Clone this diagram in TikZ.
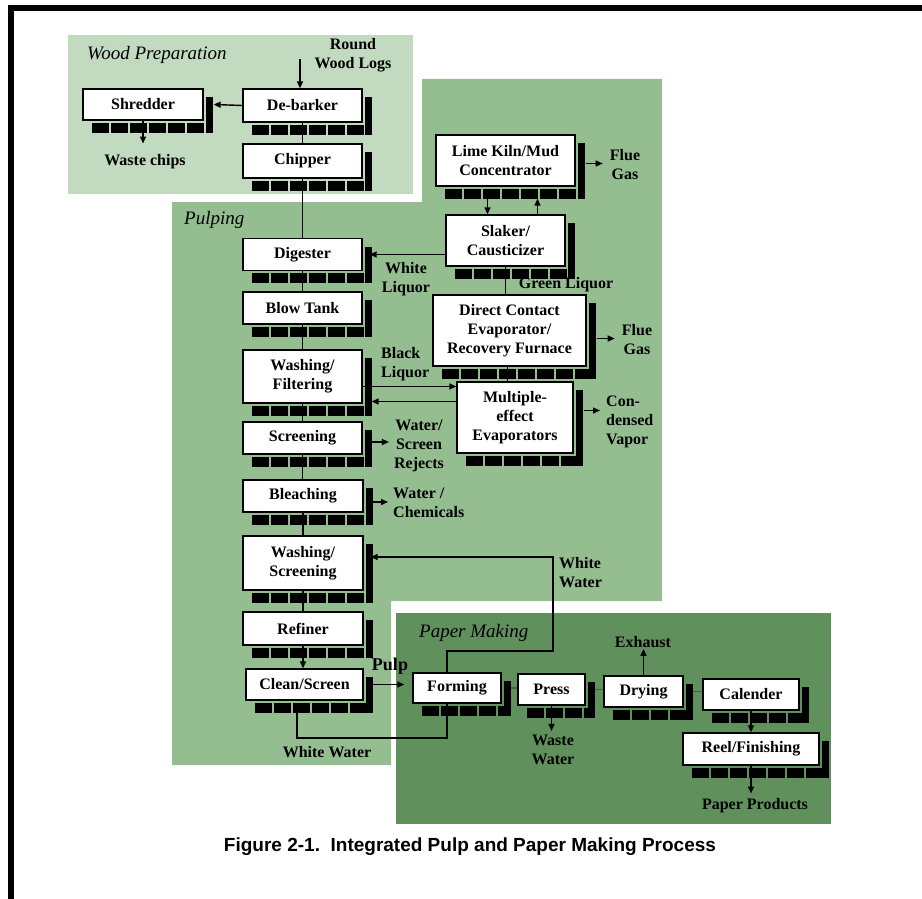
\documentclass[tikz,border=0pt]{standalone}
\usepackage{fontspec}
\setmainfont{Liberation Serif}
\newfontfamily\capfont{Liberation Sans}
\usetikzlibrary{arrows.meta,calc}
\definecolor{woodbg}{RGB}{194,218,192}
\definecolor{pulpbg}{RGB}{148,189,144}
\definecolor{paperbg}{RGB}{96,144,91}
\definecolor{rollline}{RGB}{66,98,64}
\begin{document}
\begin{tikzpicture}[x=1pt,y=-1pt,
  every node/.style={font=\fontsize{16}{19}\selectfont\bfseries},
  unit/.style={draw,fill=white,line width=1.3pt,inner sep=0pt,align=center},
  note/.style={inner sep=1pt,align=center},
  area/.style={inner sep=0pt,font=\fontsize{19}{22}\selectfont\itshape\mdseries},
  flow/.style={-{Triangle[length=7pt,width=6pt]},line width=1.4pt},
  link/.style={line width=1.4pt},
  pline/.style={line width=1.4pt,rollline},
  strip/.style={line width=10pt,dash pattern=on 17pt off 2pt}]
\useasboundingbox (0,0) rectangle (922,899);
% frame and areas
\fill[black] (8,5) rectangle (922,11);
\fill[black] (8,5) rectangle (14,899);
\fill[woodbg] (68,35) rectangle (413,194);
\fill[pulpbg] (422,79) -- (662,79) -- (662,601) -- (391,601) -- (391,765) -- (172,765) -- (172,202) -- (422,202) -- cycle;
\fill[paperbg] (396,613) rectangle (831,824);
\node[area,anchor=west] (woodt) at (87,55) {Wood Preparation};
\node[area,anchor=west] (pulpt) at (184,220) {Pulping};
\node[area,anchor=west] (papert) at (419,633) {Paper Making};
% process units
\node[unit,minimum width=120pt,minimum height=31pt] (shred) at (143,104.5) {Shredder};
\node[unit,minimum width=119pt,minimum height=33pt] (debark) at (302.5,105.5) {De-barker};
\node[unit,minimum width=119pt,minimum height=34pt] (chip) at (302.5,161) {Chipper};
\node[unit,minimum width=139pt,minimum height=51pt] (lime) at (505.5,160.5) {Lime Kiln/Mud\\Concentrator};
\node[unit,minimum width=119pt,minimum height=51pt] (slak) at (505.5,240.5) {Slaker/\\Causticizer};
\node[unit,minimum width=119pt,minimum height=32pt] (dig) at (302.5,254.5) {Digester};
\node[unit,minimum width=119pt,minimum height=32pt] (blow) at (302.5,308) {Blow Tank};
\node[unit,minimum width=153pt,minimum height=71pt] (dc) at (509.5,330.5) {Direct Contact\\Evaporator/\\Recovery Furnace};
\node[unit,minimum width=119pt,minimum height=53pt] (wf) at (302.5,376.5) {Washing/\\Filtering};
\node[unit,minimum width=116pt,minimum height=71pt] (me) at (515,417.5) {Multiple-\\effect\\Evaporators};
\node[unit,minimum width=119pt,minimum height=32pt] (scr) at (302.5,438) {Screening};
\node[unit,minimum width=120pt,minimum height=32pt] (bleach) at (303,496) {Bleaching};
\node[unit,minimum width=120pt,minimum height=54pt] (ws) at (303,563) {Washing/\\Screening};
\node[unit,minimum width=120pt,minimum height=33pt] (ref) at (303,628.5) {Refiner};
\node[unit,minimum width=117pt,minimum height=31pt] (cs) at (304.5,684.5) {Clean/Screen};
\node[unit,minimum width=88pt,minimum height=30pt] (form) at (457,688) {Forming};
\node[unit,minimum width=67pt,minimum height=31pt] (press) at (551.5,689.5) {Press};
\node[unit,minimum width=79pt,minimum height=31pt] (dry) at (643.5,691.5) {Drying};
\node[unit,minimum width=96pt,minimum height=31pt] (cal) at (751,694.5) {Calender};
\node[unit,minimum width=136pt,minimum height=32pt] (reel) at (751,749) {Reel/Finishing};
% shadows
\foreach \n in {shred,debark,chip,lime,slak,dig,blow,dc,wf,me,scr,bleach,ws,ref,cs,form,press,dry,cal,reel} {
  \fill (\n.north east) ++(2,9) rectangle ($(\n.south east)+(9,12)$);
  \draw[strip] ($(\n.south west)+(10,7)$) -- ($(\n.south east)+(2,7)$);
}
% stream labels
\node[note] (logs) at (353,55) {Round\\Wood Logs};
\node[note] (chips) at (145,162) {Waste chips};
\node[note] (flue1) at (625,165) {Flue\\Gas};
\node[note] (wliq) at (406,279) {White\\Liquor};
\node[note] (gliq) at (566,285) {Green Liquor};
\node[note] (flue2) at (637,340) {Flue\\Gas};
\node[note,align=left,anchor=west] (bliq) at (380,364) {Black\\Liquor};
\node[note,align=left,anchor=west] (vapor) at (605,422) {Con-\\densed\\Vapor};
\node[note] (rejects) at (419,446) {Water/\\Screen\\Rejects};
\node[note,align=left,anchor=west] (chem) at (392,503) {Water /\\Chemicals};
\node[note,align=left,anchor=west] (wwup) at (558,573) {White\\Water};
\node[note,font=\fontsize{18}{21}\selectfont\bfseries] (pulp) at (390,666) {Pulp};
\node[note] (wwdown) at (327,752) {White Water};
\node[note] (wastew) at (553,750) {Waste\\Water};
\node[note] (exhaust) at (643,642) {Exhaust};
\node[note] (products) at (755,806) {Paper Products};
\node[font=\capfont\bfseries\fontsize{19}{22}\selectfont] (cap) at (470,847) {Figure 2-1.\ \ Integrated Pulp and Paper Making Process};
% connectors
\coordinate (login) at (300,59);
\draw[flow] (login) -- (login |- debark.north);
\draw[flow] (debark.west) -- ([xshift=10pt]shred.east);
\draw[flow] (shred.south) -- ([yshift=10pt]shred.south |- chips.north);
\foreach \a/\b in {debark/chip,chip/dig,dig/blow,blow/wf,wf/scr,scr/bleach,bleach/ws,ws/ref} \draw[link] (\a.south) -- (\a.south |- \b.north);
\draw[flow] (ref.south) -- (ref.south |- cs.north);
\draw[flow] (slak.west |- dig.east) -- ([xshift=7pt]dig.east);
\draw[flow] ([xshift=-18pt,yshift=-10pt]lime.south) -- ([xshift=-18pt]slak.north);
\draw[flow] ([xshift=32pt]slak.north) -- ([xshift=32pt,yshift=-12pt]lime.south);
\draw[flow] ([xshift=10pt,yshift=-3pt]lime.east) -- ([xshift=-6pt,yshift=-3pt]lime.east -| flue1.west);
\draw[link] (slak.south) -- (slak.south |- dc.north);
\draw[flow] ([xshift=10pt,yshift=-8pt]dc.east) -- ([xshift=-6pt,yshift=-8pt]dc.east -| flue2.west);
\draw[link] ([xshift=-2pt]dc.south) -- ([xshift=-2pt]dc.south |- me.north);
\draw[flow] ([yshift=-10pt]wf.east) -- ([yshift=-10pt]wf.east -| me.west);
\draw[flow] ([yshift=-25pt]wf.east -| me.west) -- ([xshift=9pt,yshift=-25pt]wf.east);
\draw[flow] ([xshift=10pt,yshift=7pt]me.east) -- ([xshift=-5pt,yshift=7pt]me.east -| vapor.west);
\draw[flow] ([xshift=8pt,yshift=-4pt]scr.east) -- ([xshift=-4pt,yshift=-4pt]scr.east -| rejects.west);
\draw[flow] ([xshift=8pt,yshift=-6pt]bleach.east) -- ([xshift=-4pt,yshift=-6pt]bleach.east -| chem.west);
\coordinate (wwtop) at (553,651);
\draw[flow] ([xshift=-10pt]form.north) |- (wwtop) |- ([xshift=7pt,yshift=6pt]ws.east);
\coordinate (wwbot) at (297,738);
\draw[flow] ([xshift=-10pt]form.south) |- (wwbot) -- ([yshift=-2pt]cs.south -| wwbot);
\draw[flow] ([xshift=9pt]cs.east) -- ([xshift=-8pt]cs.east -| form.west);
\foreach \a/\b in {form/press,press/dry,dry/cal} \draw[pline] ([xshift=9pt]\a.east) -- (\a.east -| \b.west);
\draw[flow] (press.south) -- ([yshift=3pt]press.south |- wastew.north);
\draw[flow] (dry.north) -- (dry.north |- exhaust.south);
\draw[flow] (cal.south) -- (reel.north);
\draw[flow] (reel.south) -- ([yshift=4pt]reel.south |- products.north);
\end{tikzpicture}
\end{document}
